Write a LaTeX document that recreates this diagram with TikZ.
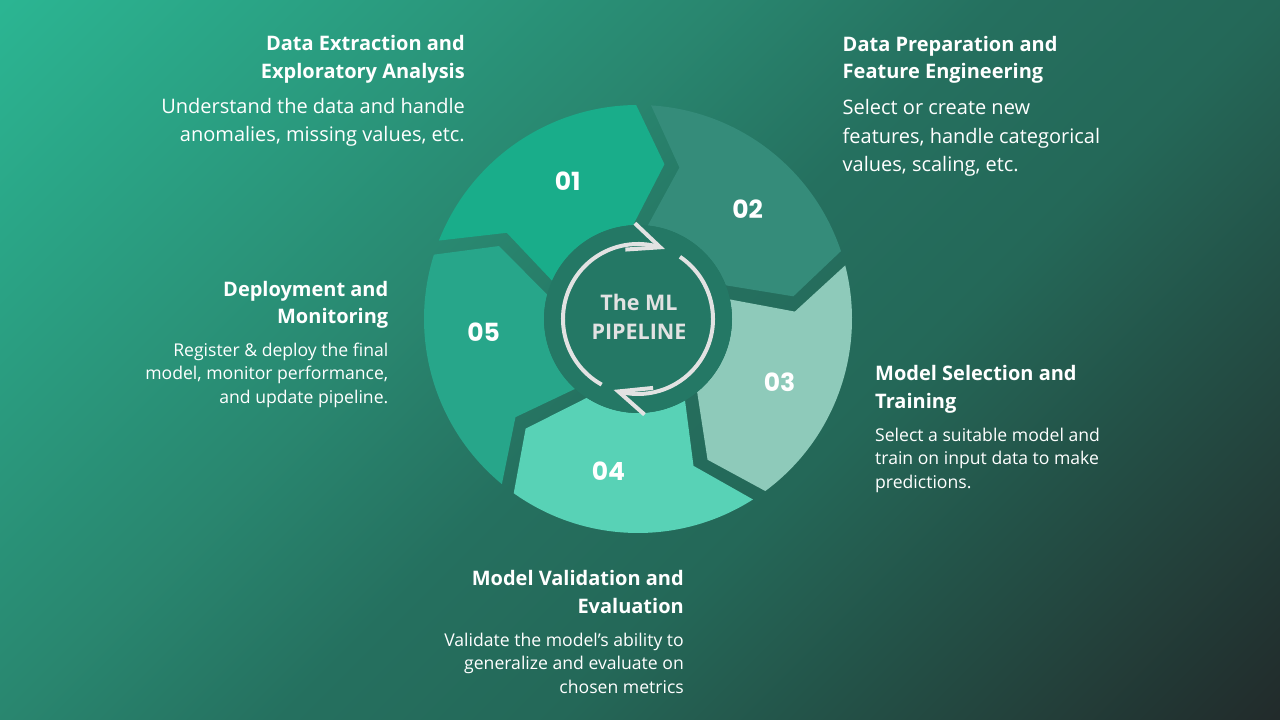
\documentclass[tikz,border=0pt]{standalone}
\usepackage{fontspec}
\setmainfont{Open Sans}
\newfontfamily\numfont{Poppins}
\usetikzlibrary{arrows.meta,bending}

\definecolor{bglight}{HTML}{2BB592}
\definecolor{bgbl}{HTML}{29866F}
\definecolor{bgmid}{HTML}{25705F}
\definecolor{bgtr}{HTML}{246858}
\definecolor{bgdark}{HTML}{222B2B}
\definecolor{segA}{HTML}{19AD8A}
\definecolor{segB}{HTML}{358C7A}
\definecolor{segC}{HTML}{8ECABA}
\definecolor{segD}{HTML}{58D2B6}
\definecolor{segE}{HTML}{27A68A}
\definecolor{hub}{HTML}{247865}
\definecolor{ringtext}{HTML}{E2E2E2}

\pgfdeclareverticalshading{bgfade}{100bp}{color(0bp)=(bgdark); color(22.4bp)=(bgdark); color(42.3bp)=(bgtr); color(50bp)=(bgmid); color(57.7bp)=(bgbl); color(77.6bp)=(bglight); color(100bp)=(bglight)}

\begin{document}
\begin{tikzpicture}[x=1pt,y=1pt,
    num/.style={text=white,font=\numfont\bfseries\fontsize{25}{25}\selectfont},
    head/.style={text=white,inner sep=0pt,font=\bfseries\fontsize{20}{27.5}\selectfont},
    bodybig/.style={text=white,inner sep=0pt,font=\fontsize{20}{28.5}\selectfont},
    bodysmall/.style={text=white,inner sep=0pt,font=\fontsize{17.6}{23.6}\selectfont},
    loop/.style={ringtext,line width=4pt,-{Straight Barb[flex,length=32pt,width=28pt]}}]
    % Background
    \useasboundingbox (0,0) rectangle (1280,720);
    \begin{scope}
        \clip (0,0) rectangle (1280,720);
        \shade[shading=bgfade,shading angle=45] (0,-280) rectangle (1280,1000);
    \end{scope}

    \begin{scope}[shift={(638,401)}]
        % Draw the five segments of the wheel
        \foreach \s/\col/\ang/\lab/\nd in {160.5/segA/117/01/n1, 88.5/segB/45/02/n2, 16.5/segC/-24/03/n3, -55.5/segD/-101/04/n4, -127.5/segE/185/05/n5}{
            \pgfmathsetmacro\ao{\s-2}
            \pgfmathsetmacro\ae{\s-70}
            \pgfmathsetmacro\tp{\s-80.2}
            \pgfmathsetmacro\ie{\s-67.5}
            \pgfmathsetmacro\is{\s-4.5}
            \pgfmathsetmacro\nt{\s-13.8}
            \fill[\col] (\ao:214) arc[start angle=\ao, end angle=\ae, radius=214]
                -- (\tp:157) -- (\ie:94)
                arc[start angle=\ie, end angle=\is, radius=94]
                -- (\nt:157) -- cycle;
            \node[num] (\nd) at (\ang:155) {\lab};
        }

        % Hub with the two turning arrows
        \fill[hub] (0,0) circle[radius=94];
        \draw[loop] (241:75) arc[start angle=241, end angle=69, radius=75];
        \draw[loop] (56:75) arc[start angle=56, end angle=-109, radius=75];
        \node[text=ringtext,font=\bfseries\fontsize{21.5}{29}\selectfont,align=center,anchor=base,inner sep=0pt] (hubtext) at (1,-21) {The ML\\PIPELINE};
    \end{scope}

    % Step descriptions (anchored at the last line)
    \node[head,anchor=base east,align=right] (h1) at (465,641.7) {Data Extraction and\\Exploratory Analysis};
    \node[bodybig,anchor=base east,align=right] (b1) at (465,578.3) {Understand the data and handle\\anomalies, missing values, etc.};
    \node[head,anchor=base west,align=left] (h2) at (842.5,641) {Data Preparation and\\Feature Engineering};
    \node[bodybig,anchor=base west,align=left] (b2) at (842.5,548.3) {Select or create new\\features, handle categorical\\values, scaling, etc.};
    \node[head,anchor=base west,align=left] (h3) at (875,311.7) {Model Selection and\\Training};
    \node[bodysmall,anchor=base west,align=left] (b3) at (875,231.7) {Select a suitable model and\\train on input data to make\\predictions.};
    \node[head,anchor=base east,align=right] (h4) at (684,106.7) {Model Validation and\\Evaluation};
    \node[bodysmall,anchor=base east,align=right] (b4) at (684,26.7) {Validate the model’s ability to\\generalize and evaluate on\\chosen metrics};
    \node[head,anchor=base east,align=right] (h5) at (388.5,396) {Deployment and\\Monitoring};
    \node[bodysmall,anchor=base east,align=right] (b5) at (388.5,316.7) {Register \& deploy the final\\model, monitor performance,\\and update pipeline.};
\end{tikzpicture}
\end{document}
